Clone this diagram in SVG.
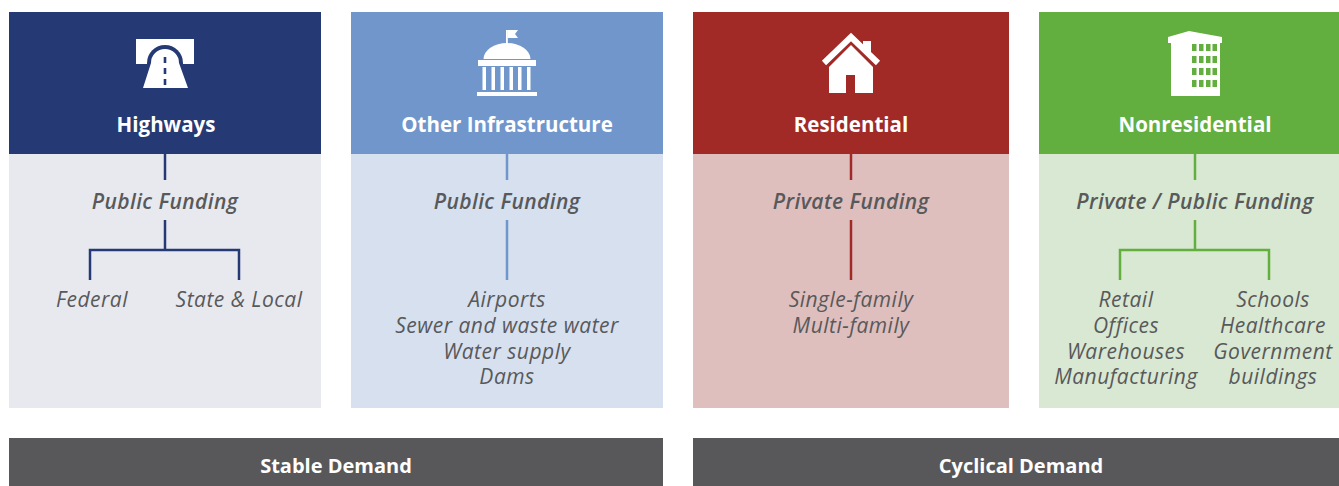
<svg xmlns="http://www.w3.org/2000/svg" width="1339" height="486" viewBox="0 0 1339 486">
<style>
.title{font-family:"Open Sans","Liberation Sans",sans-serif;font-weight:700;font-size:20.5px;fill:#fff;text-anchor:middle}
.fund{font-family:"Open Sans","Liberation Sans",sans-serif;font-style:italic;font-weight:600;font-size:21px;letter-spacing:0.4px;fill:#58595b;text-anchor:middle}
.item{font-family:"Open Sans","Liberation Sans",sans-serif;font-style:italic;font-weight:400;font-size:21px;letter-spacing:0.5px;fill:#58595b;text-anchor:middle}
.bar{font-family:"Open Sans","Liberation Sans",sans-serif;font-weight:700;font-size:20px;fill:#fff;text-anchor:middle}
.ln{fill:none;stroke-width:2.5}
.w{fill:#fff}
</style>
<rect width="1339" height="486" fill="#fff"/>

<g id="highways">
<rect x="9" y="12" width="312" height="142" fill="#253a75"/>
<rect x="9" y="154" width="312" height="254" fill="#e8e9ef"/>
<rect class="w" x="136" y="39" width="58" height="25"/>
<path d="M147,64 L147,63 A18,18 0 0 1 183,63 L183,64 Z" fill="#253a75"/>
<path class="w" d="M151,63 A14,14 0 0 1 179,63 L188,88 L143,88 Z"/>
<g fill="#253a75"><rect x="163.7" y="57" width="2.6" height="6"/><rect x="163.7" y="68" width="2.6" height="6"/><rect x="163.7" y="79" width="2.6" height="6"/></g>
<text class="title" x="166" y="132">Highways</text>
<text class="fund" x="165" y="209">Public Funding</text>
<text class="item" x="92" y="307">Federal</text>
<text class="item" x="239" y="307">State &amp; Local</text>
</g>

<g id="other-infrastructure">
<rect x="351" y="12" width="312" height="142" fill="#7096cb"/>
<rect x="351" y="154" width="312" height="254" fill="#d6e0ef"/>
<rect class="w" x="506" y="30" width="1.8" height="14"/>
<path class="w" d="M507.5,30 L518,30 L515,34 L518,38 L507.5,38 Z"/>
<path class="w" d="M483.5,59 A23.5,16 0 0 1 530.5,59 Z"/>
<rect class="w" x="478" y="60" width="58" height="6"/>
<g class="w"><rect x="482.5" y="67" width="3.5" height="23"/><rect x="491.5" y="67" width="3.5" height="23"/><rect x="500.5" y="67" width="3.5" height="23"/><rect x="509.5" y="67" width="3.5" height="23"/><rect x="518" y="67" width="3.5" height="23"/><rect x="527" y="67" width="3.5" height="23"/></g>
<rect class="w" x="477" y="92" width="60" height="4"/>
<text class="title" x="507" y="132">Other Infrastructure</text>
<text class="fund" x="507" y="209">Public Funding</text>
<text class="item" y="307"><tspan x="507">Airports</tspan><tspan x="507" dy="25.8">Sewer and waste water</tspan><tspan x="507" dy="25.8">Water supply</tspan><tspan x="507" dy="25.8">Dams</tspan></text>
</g>

<g id="residential">
<rect x="693" y="12" width="316" height="142" fill="#a12a27"/>
<rect x="693" y="154" width="316" height="254" fill="#dfbfbe"/>
<rect class="w" x="863" y="41" width="8" height="12"/>
<polyline points="824,63 851,37 878,63" fill="none" stroke="#fff" stroke-width="6"/>
<path class="w" d="M829,67 L851,45 L873,67 L873,93 L855,93 L855,75 L846,75 L846,93 L829,93 Z"/>
<text class="title" x="851" y="132">Residential</text>
<text class="fund" x="851" y="209">Private Funding</text>
<text class="item" y="307"><tspan x="851">Single-family</tspan><tspan x="851" dy="25.8">Multi-family</tspan></text>
</g>

<g id="nonresidential">
<rect x="1039" y="12" width="300" height="142" fill="#62ae3e"/>
<rect x="1039" y="154" width="300" height="254" fill="#d9e8d2"/>
<path class="w" d="M1168,37 L1189,31 L1222,37 L1222,43 L1220,43 L1220,96 L1171,96 L1171,43 L1168,43 Z"/>
<g fill="#62ae3e">
<rect x="1192" y="44" width="4.5" height="7"/><rect x="1199" y="44" width="4.5" height="7"/><rect x="1206" y="44" width="4.5" height="7"/><rect x="1212.5" y="44" width="4.5" height="7"/>
<rect x="1192" y="56" width="4.5" height="7"/><rect x="1199" y="56" width="4.5" height="7"/><rect x="1206" y="56" width="4.5" height="7"/><rect x="1212.5" y="56" width="4.5" height="7"/>
<rect x="1192" y="68" width="4.5" height="7"/><rect x="1199" y="68" width="4.5" height="7"/><rect x="1206" y="68" width="4.5" height="7"/><rect x="1212.5" y="68" width="4.5" height="7"/>
<rect x="1192" y="80" width="4.5" height="7"/><rect x="1199" y="80" width="4.5" height="7"/><rect x="1206" y="80" width="4.5" height="7"/><rect x="1212.5" y="80" width="4.5" height="7"/>
</g>
<text class="title" x="1195" y="132">Nonresidential</text>
<text class="fund" x="1195" y="209">Private / Public Funding</text>
<text class="item" y="307"><tspan x="1126">Retail</tspan><tspan x="1126" dy="25.8">Offices</tspan><tspan x="1126" dy="25.8">Warehouses</tspan><tspan x="1126" dy="25.8">Manufacturing</tspan></text>
<text class="item" y="307"><tspan x="1273">Schools</tspan><tspan x="1273" dy="25.8">Healthcare</tspan><tspan x="1273" dy="25.8">Government</tspan><tspan x="1273" dy="25.8">buildings</tspan></text>
</g>

<g id="stable-demand">
<rect x="9" y="438" width="654" height="48" fill="#58585a"/>
<text class="bar" x="336" y="473">Stable Demand</text>
</g>
<g id="cyclical-demand">
<rect x="693" y="438" width="646" height="48" fill="#58585a"/>
<text class="bar" x="1021" y="473">Cyclical Demand</text>
</g>

<g id="connectors">
<path class="ln" stroke="#253a75" d="M165,154 V180 M165,220 V250 M90,250 H239 M90,248.8 V280 M239,248.8 V280"/>
<path class="ln" stroke="#7096cb" d="M507,154 V180 M507,220 V280"/>
<path class="ln" stroke="#a12a27" d="M851,154 V180 M851,220 V280"/>
<path class="ln" stroke="#62ae3e" d="M1195,154 V180 M1195,220 V250 M1120,250 H1269 M1120,248.8 V280 M1269,248.8 V280"/>
</g>
</svg>
